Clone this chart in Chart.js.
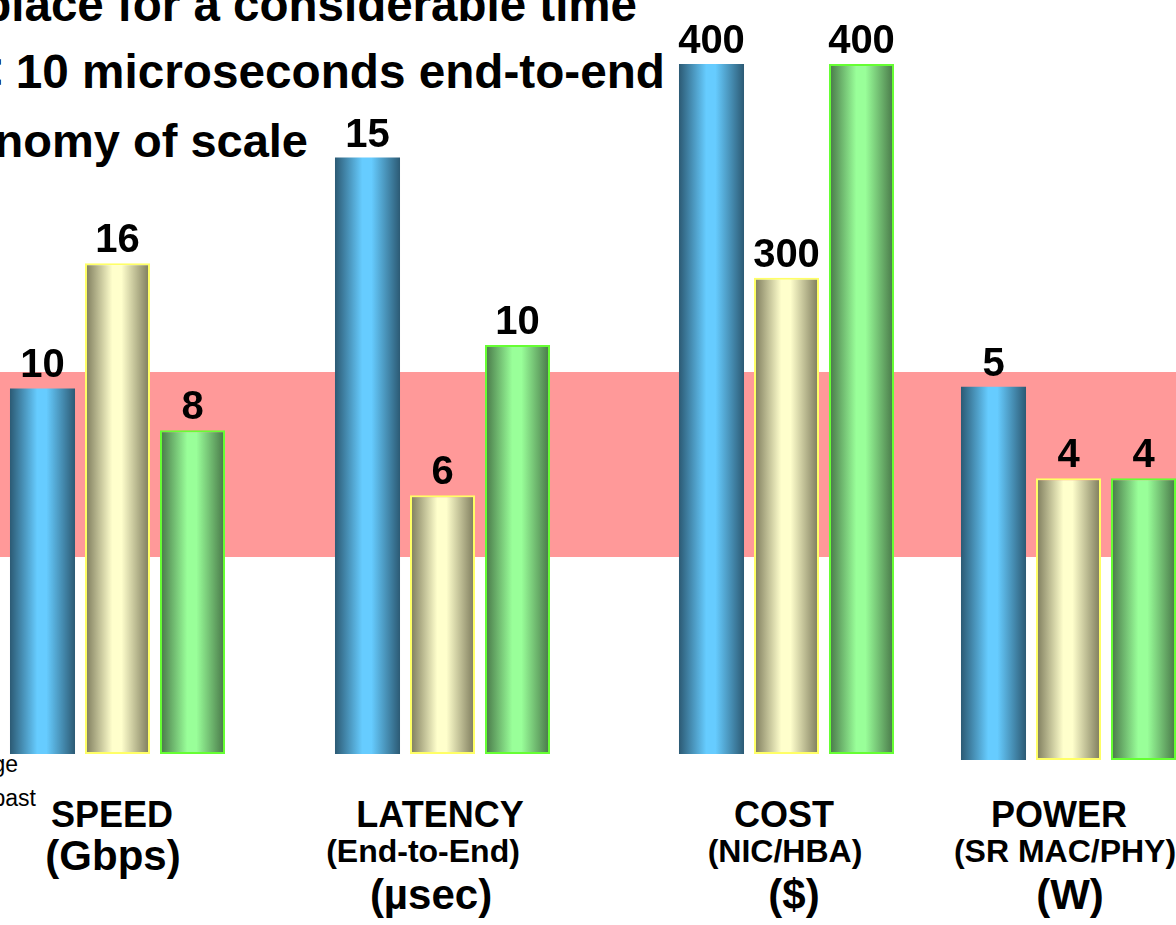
<!DOCTYPE html>
<html>
<head>
<meta charset="utf-8">
<title>Speed / Latency / Cost / Power</title>
<script src="https://cdn.jsdelivr.net/npm/chart.js@4.4.1/dist/chart.umd.min.js"></script>
<style>
  html, body { margin: 0; padding: 0; }
  body {
    width: 1176px; height: 925px; overflow: hidden; position: relative;
    background: #fff; color: #000;
    font-family: "Liberation Sans", Arial, Helvetica, sans-serif;
  }
  .band { position: absolute; left: 0; top: 372px; width: 1176px; height: 185px; background: #ff9999; }
  .box { position: absolute; top: 0; width: 225px; }
  .txt { position: absolute; white-space: nowrap; line-height: 1; }
  .b { font-weight: bold; }
  .c { transform: translateX(-50%); }
</style>
</head>
<body>
<div class="band"></div>

<!-- slide text that runs off the left edge -->
<div class="txt b" style="right:539px; top:-19px; font-size:47.5px;">place for a considerable time</div>
<div class="txt b" style="right:511px; top:48px; font-size:47.7px;">&lt; 10 microseconds end-to-end</div>
<div class="txt b" style="right:868px; top:117px; font-size:47px;">Economy of scale</div>
<div class="txt" style="right:1158px; top:753px; font-size:23px;">ge</div>
<div class="txt" style="right:1140px; top:787px; font-size:23px;">past</div>

<script>
// categories and values (one hidden scale per group, like the slide)
const categories = ["SPEED", "LATENCY", "COST", "POWER"];
const subtitles = ["", "(End-to-End)", "(NIC/HBA)", "(SR MAC/PHY)"];
const units = ["(Gbps)", "(µsec)", "($)", "(W)"];
const blueValues = [10, 15, 400, 5];
const creamValues = [16, 6, 300, 4];
const greenValues = [8, 10, 400, 4];
const scaleMin = [-7.5, -0.9, 77, 0.92];
const scaleMax = [28.6, 19.2, 430, 9.23];

// layout
const groupLeft = [5, 330, 673.5, 955.5];
const groupBase = [754, 754, 754, 760];
const titleX = [112, 440, 784, 1059];
const subX = [0, 423, 785, 1065];
const unitX = [113, 431, 794, 1070];
const BAR_PCT = 0.867;

Chart.defaults.font.family = '"Liberation Sans", Arial, Helvetica, sans-serif';

// horizontal "cylinder" shading for each bar
function shade(edge, mid) {
  return function (context) {
    const chart = context.chart;
    const area = chart.chartArea;
    if (!area) return mid;
    const n = chart.data.datasets.length;
    const step = (area.right - area.left) / n;
    const half = (step * BAR_PCT) / 2;
    const cx = area.left + step * (context.datasetIndex + 0.5);
    const g = chart.ctx.createLinearGradient(cx - half, 0, cx + half, 0);
    g.addColorStop(0, edge);
    g.addColorStop(0.42, mid);
    g.addColorStop(0.56, mid);
    g.addColorStop(1, edge);
    return g;
  };
}

const valueLabels = {
  id: "valueLabels",
  afterDatasetsDraw(chart) {
    const ctx = chart.ctx;
    ctx.save();
    ctx.font = 'bold 40px "Liberation Sans", Arial, sans-serif';
    ctx.fillStyle = "#000";
    ctx.textAlign = "center";
    ctx.textBaseline = "alphabetic";
    chart.data.datasets.forEach(function (ds, i) {
      chart.getDatasetMeta(i).data.forEach(function (bar, j) {
        ctx.fillText(ds.data[j], bar.x, bar.y - 11);
      });
    });
    ctx.restore();
  },
};

function addText(str, size, cx, top) {
  if (!str) return;
  const d = document.createElement("div");
  d.className = "txt b c";
  d.style.fontSize = size + "px";
  d.style.left = cx + "px";
  d.style.top = top + "px";
  d.textContent = str;
  document.body.appendChild(d);
}

categories.forEach(function (name, g) {
  const box = document.createElement("div");
  box.className = "box";
  box.style.left = groupLeft[g] + "px";
  box.style.height = groupBase[g] + "px";
  const canvas = document.createElement("canvas");
  box.appendChild(canvas);
  document.body.appendChild(box);

  new Chart(canvas.getContext("2d"), {
    type: "bar",
    data: {
      labels: [name],
      datasets: [
        {
          data: [blueValues[g]],
          backgroundColor: shade("#2c5a74", "#66ccff"),
          borderWidth: 0,
        },
        {
          data: [creamValues[g]],
          backgroundColor: shade("#7b795a", "#ffffcc"),
          borderColor: "#ffff66",
          borderWidth: 2,
        },
        {
          data: [greenValues[g]],
          backgroundColor: shade("#477547", "#99ff99"),
          borderColor: "#66ff33",
          borderWidth: 2,
        },
      ].map(function (ds) {
        ds.base = scaleMin[g];
        ds.borderSkipped = false;
        ds.categoryPercentage = 1;
        ds.barPercentage = BAR_PCT;
        return ds;
      }),
    },
    options: {
      responsive: true,
      maintainAspectRatio: false,
      animation: false,
      layout: { padding: 0 },
      scales: {
        x: { display: false },
        y: { display: false, min: scaleMin[g], max: scaleMax[g] },
      },
      plugins: {
        legend: { display: false },
        tooltip: { enabled: false },
      },
    },
    plugins: [valueLabels],
  });

  // axis captions under each group
  addText(name, 36, titleX[g], 796.5);
  addText(subtitles[g], 32, subX[g], 835);
  addText(units[g], 42, unitX[g], subtitles[g] ? 874 : 835);
});
</script>
</body>
</html>
